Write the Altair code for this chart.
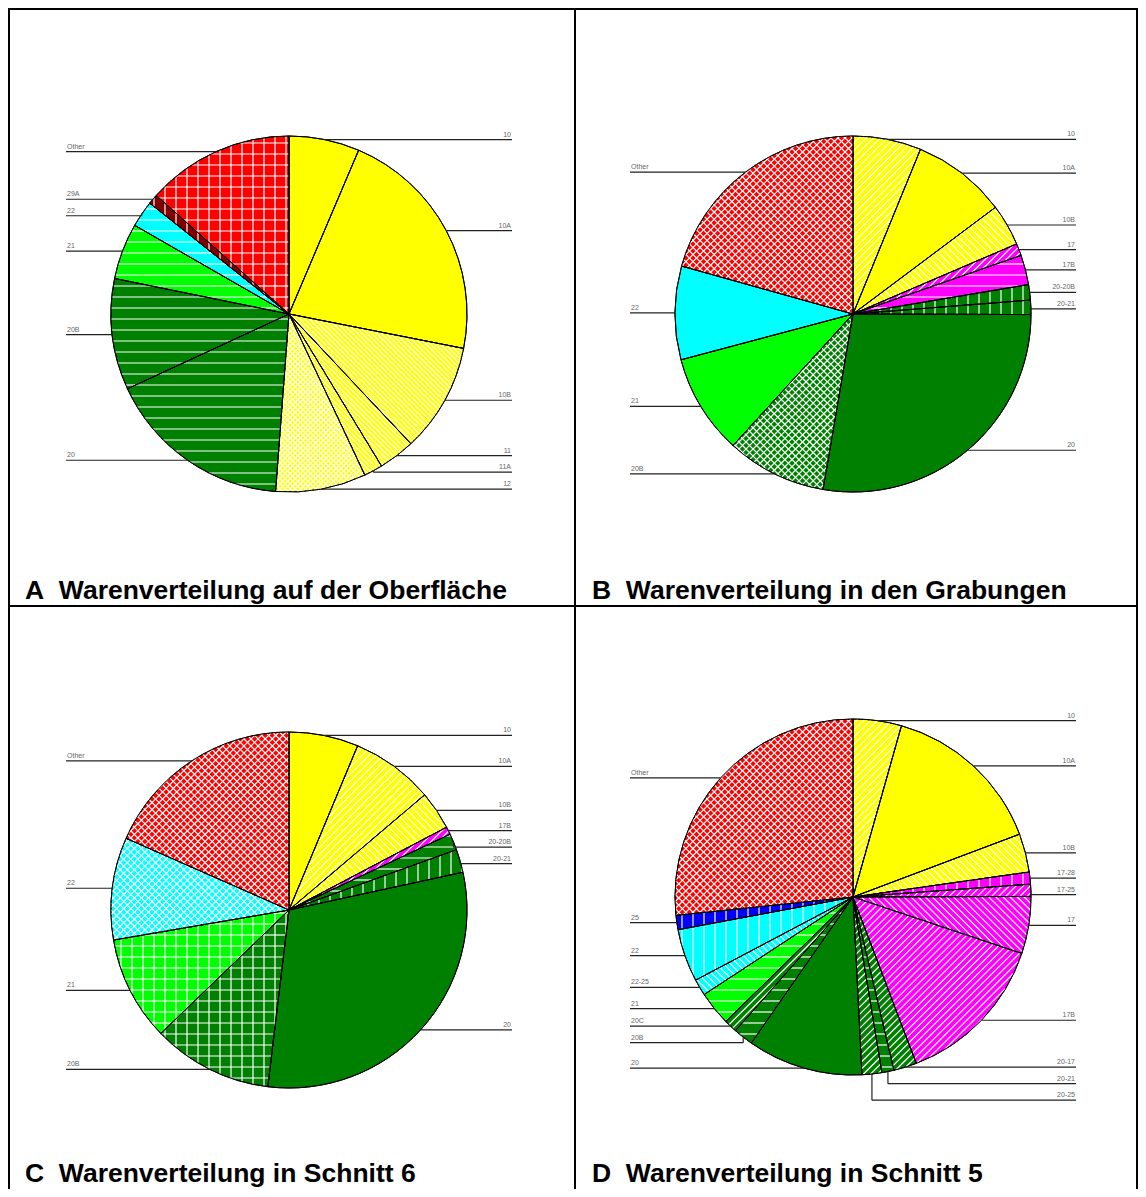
import math
import altair as alt
import pandas as pd

# ---------------- data (shares in %, clockwise from 12 o'clock) ----------------
A_wares = ["10", "10A", "10B", "11", "11A", "12", "20", "20B", "21", "22", "29A", "Other"]
A_values = [6.4, 21.7, 9.9, 3.3, 1.7, 8.2, 16.9, 10.1, 5.1, 2.4, 0.9, 13.4]

B_wares = ["10", "10A", "10B", "17", "17B", "20-20B", "20-21", "20", "20B", "21", "22", "Other"]
B_values = [6.2, 8.6, 3.8, 1.1, 2.7, 1.4, 1.3, 27.7, 9.1, 9.1, 8.5, 20.7]

C_wares = ["10", "10A", "10B", "17B", "20-20B", "20-21", "20", "20B", "21", "22", "Other"]
C_values = [6.3, 7.5, 3.5, 0.7, 1.5, 2.1, 30.3, 10.9, 9.5, 9.3, 18.4]

D_wares = ["10", "10A", "10B", "17-28", "17-25", "17", "17B", "20-17", "20-21", "20-25",
           "20", "20B", "20C", "21", "22-25", "22", "25", "Other"]
D_values = [4.4, 14.9, 3.5, 1.1, 1.1, 5.2, 14.1, 2.1, 1.1, 1.8,
            10.5, 1.8, 1.2, 3.1, 1.5, 4.8, 1.3, 26.7]

TITLES = {
    "A": "A\u00a0\u00a0Warenverteilung auf der Oberfläche",
    "B": "B\u00a0\u00a0Warenverteilung in den Grabungen",
    "C": "C\u00a0\u00a0Warenverteilung in Schnitt 6",
    "D": "D\u00a0\u00a0Warenverteilung in Schnitt 5",
}

# ---------------- styles ----------------
COLORS = {"Y": "#FFFF00", "DG": "#008000", "G": "#00FF00", "C": "#00FFFF",
          "M": "#FF00FF", "R": "#FF0000", "DR": "#800000", "B": "#0000FF"}
A_fill = ["Y", "Y", "Y", "Y", "Y", "Y", "DG", "DG", "G", "C", "DR", "R"]
A_hatch = ["", "", "bdf", "bdf", "bdf", "dcf", "h", "h", "h", "h", "v", "grid"]
B_fill = ["Y", "Y", "Y", "M", "M", "DG", "DG", "DG", "DG", "G", "C", "R"]
B_hatch = ["fd", "", "bd", "fd", "h", "v", "v", "", "dc", "", "", "dc"]
C_fill = ["Y", "Y", "Y", "M", "DG", "DG", "DG", "DG", "G", "C", "R"]
C_hatch = ["", "fd", "bd", "fd", "h", "v", "", "grid", "grid", "dc", "dc"]
D_fill = ["Y", "Y", "Y", "M", "M", "M", "M", "DG", "DG", "DG",
          "DG", "DG", "DG", "G", "C", "C", "B", "R"]
D_hatch = ["fd", "", "bd", "v", "fd", "bd", "fd", "fd", "h", "fd",
           "", "h", "fd", "h", "bd", "v", "v", "dc"]

HATCH = {
    "h": [(0, 11)], "v": [(90, 11)], "grid": [(0, 11), (90, 11)],
    "fd": [(-45, 5)], "bd": [(45, 5)], "dc": [(-45, 5), (45, 5)],
    "bdf": [(45, 3.4)], "dcf": [(-45, 3.6), (45, 3.6)],
}

# ---------------- layout ----------------
R = 178
ARM = 223
GAP = 16.5
CENTERS = {"A": (289, 314), "B": (853, 314), "C": (289, 910), "D": (853, 897)}
TITLE_POS = {"A": (25, 599), "B": (592, 599), "C": (25, 1182), "D": (592, 1182)}

PANELS = [
    ("A", A_wares, A_values, A_fill, A_hatch),
    ("B", B_wares, B_values, B_fill, B_hatch),
    ("C", C_wares, C_values, C_fill, C_hatch),
    ("D", D_wares, D_values, D_fill, D_hatch),
]

W, H = 1130, 1181
XS = alt.Scale(domain=[8, 8 + W], nice=False, zero=False)
YS = alt.Scale(domain=[8, 8 + H], nice=False, zero=False, reverse=True)


def clip(cx, cy, a0, a1, px, py, dx, dy):
    qx, qy = px - cx, py - cy
    b = qx * dx + qy * dy
    c = qx * qx + qy * qy - R * R
    disc = b * b - c
    if disc <= 0:
        return None
    s = math.sqrt(disc)
    tlo, thi = -b - s, -b + s
    for nx, ny, sg in ((math.cos(a0), math.sin(a0), 1), (math.cos(a1), math.sin(a1), -1)):
        f0 = sg * (qx * nx + qy * ny)
        fd = sg * (dx * nx + dy * ny)
        if abs(fd) < 1e-12:
            if f0 < 0:
                return None
        else:
            t = -f0 / fd
            if fd > 0:
                tlo = max(tlo, t)
            else:
                thi = min(thi, t)
    if thi - tlo < 0.6:
        return None
    return (px + tlo * dx, py + tlo * dy, px + thi * dx, py + thi * dy)


arc_rows, hatch_rows, line_rows, textR, textL = [], [], [], [], []
for pid, wares, values, fills, hatches in PANELS:
    cx, cy = CENTERS[pid]
    tot = sum(values)
    acc = 0.0
    items = []
    for ware, v, f, h in zip(wares, values, fills, hatches):
        a0 = acc / tot * 2 * math.pi
        acc += v
        a1 = acc / tot * 2 * math.pi
        arc_rows.append({"cx": cx, "cy": cy, "t0": a0, "t1": a1, "fill": COLORS[f], "ware": ware})
        for ang, sp in HATCH.get(h, []):
            phi = math.radians(ang)
            dx, dy = math.cos(phi), math.sin(phi)
            mx, my = -dy, dx
            cm = cx * mx + cy * my
            k0 = math.ceil((cm - R) / sp)
            k1 = math.floor((cm + R) / sp)
            for k in range(k0, k1 + 1):
                o = k * sp - cm
                seg = clip(cx, cy, a0, a1, cx + o * mx, cy + o * my, dx, dy)
                if seg:
                    hatch_rows.append({"x": seg[0], "y": seg[1], "x2": seg[2], "y2": seg[3]})
        m = (a0 + a1) / 2
        items.append((ware, cx + R * math.sin(m), cy - R * math.cos(m), "R" if math.sin(m) >= 0 else "L"))
    for side in "RL":
        grp = sorted([it for it in items if it[3] == side], key=lambda it: it[2])
        prev = -1e9
        xe = cx + ARM if side == "R" else cx - ARM
        for ware, px, py, _ in grp:
            yl = max(py, prev + GAP)
            prev = yl
            if yl - py > 0.8:
                line_rows.append({"x": px, "y": py, "x2": px, "y2": yl})
            line_rows.append({"x": px, "y": yl, "x2": xe, "y2": yl})
            (textR if side == "R" else textL).append({"x": xe, "y": yl, "t": ware})

frame_rows = [
    {"x": 8, "y": 9, "x2": 1138, "y2": 9},
    {"x": 9, "y": 8, "x2": 9, "y2": 1189},
    {"x": 1137, "y": 8, "x2": 1137, "y2": 1189},
    {"x": 575, "y": 8, "x2": 575, "y2": 1189},
    {"x": 8, "y": 606, "x2": 1138, "y2": 606},
]
title_rows = [{"x": TITLE_POS[k][0], "y": TITLE_POS[k][1], "t": v} for k, v in TITLES.items()]

arcs = pd.DataFrame(arc_rows)
base_arc = alt.Chart(arcs).encode(
    x=alt.X("cx:Q", scale=XS, axis=None),
    y=alt.Y("cy:Q", scale=YS, axis=None),
    theta=alt.Theta("t0:Q", scale=None, stack=None),
    theta2="t1:Q",
)
fill_layer = base_arc.mark_arc(radius=R, stroke="black", strokeWidth=1).encode(
    fill=alt.Color("fill:N", scale=None))
outline_layer = base_arc.mark_arc(radius=R, stroke="black", strokeWidth=1, fillOpacity=0, fill="white")


def seg_chart(rows, **mk):
    return alt.Chart(pd.DataFrame(rows)).mark_rule(**mk).encode(
        x=alt.X("x:Q", scale=XS, axis=None), y=alt.Y("y:Q", scale=YS, axis=None),
        x2="x2:Q", y2="y2:Q")


hatch_layer = seg_chart(hatch_rows, color="white", strokeWidth=1.2)
label_lines = seg_chart(line_rows, color="#222222", strokeWidth=1.2)
frame = seg_chart(frame_rows, color="black", strokeWidth=2)


def text_chart(rows, **mk):
    return alt.Chart(pd.DataFrame(rows)).mark_text(**mk).encode(
        x=alt.X("x:Q", scale=XS, axis=None), y=alt.Y("y:Q", scale=YS, axis=None), text="t:N")


labR = text_chart(textR, align="right", baseline="alphabetic", dy=-3, dx=-1,
                  fontSize=7, font="Liberation Sans", color="#666666")
labL = text_chart(textL, align="left", baseline="alphabetic", dy=-3, dx=1,
                  fontSize=7, font="Liberation Sans", color="#666666")
titles = text_chart(title_rows, align="left", baseline="alphabetic", fontSize=26.5,
                    fontWeight="bold", font="Liberation Sans", color="black")

chart = alt.layer(fill_layer, hatch_layer, outline_layer, label_lines, labR, labL, frame, titles).properties(
    width=W, height=H, padding=0,
    autosize=alt.AutoSizeParams(type="none"),
).configure_view(stroke=None).configure(background="white")

chart.save("out.html", embed_options={"renderer": "svg", "actions": False})
